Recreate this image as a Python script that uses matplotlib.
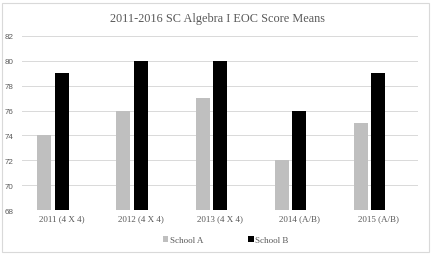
import matplotlib.pyplot as plt
import numpy as np
from matplotlib.patches import Rectangle

# Data
categories = ["2011 (4 X 4)", "2012 (4 X 4)", "2013 (4 X 4)", "2014 (A/B)", "2015 (A/B)"]
school_a = [74, 76, 77, 72, 75]
school_b = [79, 80, 80, 76, 79]
y_ticks = [68, 70, 72, 74, 76, 78, 80, 82]

fig = plt.figure(figsize=(4.34, 2.55), dpi=100)
ax = fig.add_axes([0.0507, 0.1725, 0.9123, 0.6825])

x = np.arange(len(categories))
w = 0.177
ax.bar(x - 0.22, school_a, width=w, bottom=0, color="#bfbfbf", label="School A", zorder=2)
ax.bar(x, school_b, width=w, bottom=0, color="#000000", label="School B", zorder=2)

ax.set_xlim(-0.5, len(categories) - 0.5)
ax.set_ylim(68, 82)
ax.set_yticks(y_ticks)
ax.set_xticks(x)
ax.set_xticklabels(categories, family="Liberation Serif", fontsize=6.5, color="#595959")
ax.tick_params(axis="y", labelsize=5.8, labelcolor="#595959", length=0, pad=6)
ax.tick_params(axis="x", length=0, pad=3)
for lab in ax.get_yticklabels():
    lab.set_family("Liberation Sans")

ax.grid(axis="y", color="#d9d9d9", linewidth=0.7, zorder=0)
for s in ax.spines.values():
    s.set_visible(False)

fig.text(0.5, 0.925, "2011-2016 SC Algebra I EOC Score Means", ha="center", va="center",
         family="Liberation Serif", fontsize=8.8, color="#595959")

leg = fig.legend(loc="center", bbox_to_anchor=(0.52, 0.055), ncol=2, frameon=False,
                 prop={"family": "Liberation Serif", "size": 6.5}, handlelength=0.6,
                 handleheight=0.6, handletextpad=0.2, columnspacing=5)
for t in leg.get_texts():
    t.set_color("#595959")

# light border around the chart area
fig.patches.append(Rectangle((0.004, 0.006), 0.984, 0.98, transform=fig.transFigure,
                             fill=False, edgecolor="#d9d9d9", linewidth=0.8))

plt.savefig("out.png", dpi=100)
